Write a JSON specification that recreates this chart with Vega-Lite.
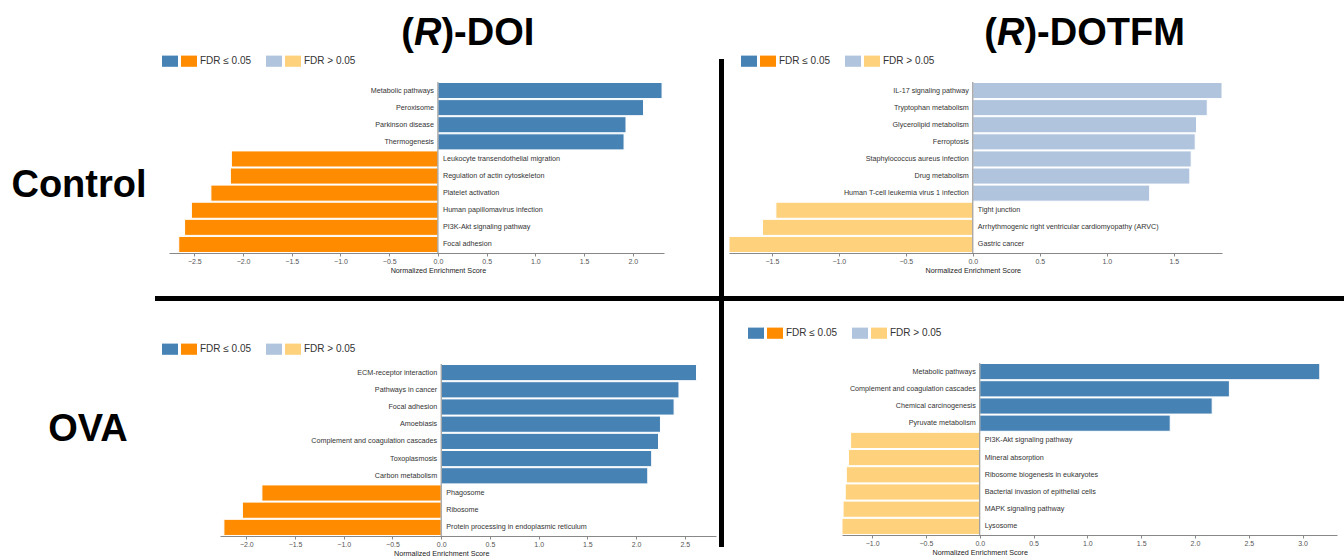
{
  "$schema": "https://vega.github.io/schema/vega-lite/v6.json",
  "padding": 0,
  "background": "white",
  "config": {
    "font": "Liberation Sans",
    "view": {"stroke": null},
    "axisX": {
      "grid": false, "format": ".1f",
      "labelFontSize": 7, "labelColor": "#555", "labelPadding": 1, "labelFlush": false,
      "tickSize": 3, "tickColor": "#888", "domainColor": "#888",
      "titleFontSize": 7.2, "titleFontWeight": "normal", "titleColor": "#222",
      "titleAlign": "center", "titleBaseline": "middle", "titleY": 17
    },
    "axisY": {
      "grid": false, "labels": false, "ticks": false, "domain": false,
      "titleAngle": 0, "titleFontSize": 38, "titleFontWeight": "bold", "titleColor": "#000",
      "titleAlign": "center", "titleBaseline": "alphabetic"
    },
    "legend": {
      "direction": "horizontal", "padding": 0, "columnPadding": 0,
      "labelFontSize": 10, "labelColor": "#333", "labelOffset": 3, "labelLimit": 300,
      "symbolSize": 256, "symbolStrokeWidth": 0
    }
  },
  "datasets": {
    "doi_control": [
      {"pathway": "Metabolic pathways", "nes": 2.30, "fdr": "sig"},
      {"pathway": "Peroxisome", "nes": 2.11, "fdr": "sig"},
      {"pathway": "Parkinson disease", "nes": 1.93, "fdr": "sig"},
      {"pathway": "Thermogenesis", "nes": 1.91, "fdr": "sig"},
      {"pathway": "Leukocyte transendothelial migration", "nes": -2.12, "fdr": "sig"},
      {"pathway": "Regulation of actin cytoskeleton", "nes": -2.13, "fdr": "sig"},
      {"pathway": "Platelet activation", "nes": -2.33, "fdr": "sig"},
      {"pathway": "Human papillomavirus infection", "nes": -2.53, "fdr": "sig"},
      {"pathway": "PI3K-Akt signaling pathway", "nes": -2.60, "fdr": "sig"},
      {"pathway": "Focal adhesion", "nes": -2.66, "fdr": "sig"}
    ],
    "dotfm_control": [
      {"pathway": "IL-17 signaling pathway", "nes": 1.86, "fdr": "ns"},
      {"pathway": "Tryptophan metabolism", "nes": 1.75, "fdr": "ns"},
      {"pathway": "Glycerolipid metabolism", "nes": 1.67, "fdr": "ns"},
      {"pathway": "Ferroptosis", "nes": 1.66, "fdr": "ns"},
      {"pathway": "Staphylococcus aureus infection", "nes": 1.63, "fdr": "ns"},
      {"pathway": "Drug metabolism", "nes": 1.62, "fdr": "ns"},
      {"pathway": "Human T-cell leukemia virus 1 infection", "nes": 1.32, "fdr": "ns"},
      {"pathway": "Tight junction", "nes": -1.47, "fdr": "ns"},
      {"pathway": "Arrhythmogenic right ventricular cardiomyopathy (ARVC)", "nes": -1.57, "fdr": "ns"},
      {"pathway": "Gastric cancer", "nes": -1.82, "fdr": "ns"}
    ],
    "doi_ova": [
      {"pathway": "ECM-receptor interaction", "nes": 2.62, "fdr": "sig"},
      {"pathway": "Pathways in cancer", "nes": 2.44, "fdr": "sig"},
      {"pathway": "Focal adhesion", "nes": 2.39, "fdr": "sig"},
      {"pathway": "Amoebiasis", "nes": 2.25, "fdr": "sig"},
      {"pathway": "Complement and coagulation cascades", "nes": 2.23, "fdr": "sig"},
      {"pathway": "Toxoplasmosis", "nes": 2.16, "fdr": "sig"},
      {"pathway": "Carbon metabolism", "nes": 2.12, "fdr": "sig"},
      {"pathway": "Phagosome", "nes": -1.84, "fdr": "sig"},
      {"pathway": "Ribosome", "nes": -2.04, "fdr": "sig"},
      {"pathway": "Protein processing in endoplasmic reticulum", "nes": -2.23, "fdr": "sig"}
    ],
    "dotfm_ova": [
      {"pathway": "Metabolic pathways", "nes": 3.16, "fdr": "sig"},
      {"pathway": "Complement and coagulation cascades", "nes": 2.32, "fdr": "sig"},
      {"pathway": "Chemical carcinogenesis", "nes": 2.16, "fdr": "sig"},
      {"pathway": "Pyruvate metabolism", "nes": 1.77, "fdr": "sig"},
      {"pathway": "PI3K-Akt signaling pathway", "nes": -1.20, "fdr": "ns"},
      {"pathway": "Mineral absorption", "nes": -1.22, "fdr": "ns"},
      {"pathway": "Ribosome biogenesis in eukaryotes", "nes": -1.24, "fdr": "ns"},
      {"pathway": "Bacterial invasion of epithelial cells", "nes": -1.25, "fdr": "ns"},
      {"pathway": "MAPK signaling pathway", "nes": -1.27, "fdr": "ns"},
      {"pathway": "Lysosome", "nes": -1.28, "fdr": "ns"}
    ]
  },
  "bounds": "full",
  "spacing": 0,
  "resolve": {"scale": {"color": "independent"}, "legend": {"color": "independent"}},
  "hconcat": [
    {
      "bounds": "full", "spacing": 0,
      "resolve": {"scale": {"color": "independent"}, "legend": {"color": "independent"}},
      "vconcat": [
        {
          "bounds": "flush", "spacing": 0,
          "hconcat": [
            {"width": 413.7, "height": 52, "data": {"values": []}, "mark": "point"},
            {
              "width": 27.4, "height": 52,
              "data": {"values": [{"part": "(", "slot": 0}, {"part": "R", "slot": 1}, {"part": ")-DOI", "slot": 2}]},
              "encoding": {"x": {"field": "slot", "type": "ordinal", "scale": {"type": "point", "padding": 0}, "axis": null}},
              "layer": [
                {"mark": {"type": "text", "align": "right", "baseline": "alphabetic", "dy": 18.5, "fontSize": 38, "fontWeight": "bold", "color": "#000"},
                 "encoding": {"text": {"condition": {"test": "datum.slot === 0", "field": "part"}, "value": ""}}},
                {"mark": {"type": "text", "align": "center", "baseline": "alphabetic", "dy": 18.5, "fontSize": 38, "fontWeight": "bold", "fontStyle": "italic", "color": "#000"},
                 "encoding": {"text": {"condition": {"test": "datum.slot === 1", "field": "part"}, "value": ""}}},
                {"mark": {"type": "text", "align": "left", "baseline": "alphabetic", "dy": 18.5, "fontSize": 38, "fontWeight": "bold", "color": "#000"},
                 "encoding": {"text": {"condition": {"test": "datum.slot === 2", "field": "part"}, "value": ""}}}
              ]
            }
          ]
        },
        {
          "bounds": "flush", "spacing": 0,
          "resolve": {"scale": {"color": "independent"}, "legend": {"color": "independent"}},
          "hconcat": [
            {"width": 169, "height": 213.5, "data": {"values": []}, "mark": "point"},
            {
              "width": 495, "height": 171,
              "data": {"name": "doi_control"},
              "transform": [{"calculate": "(datum.nes >= 0 ? 'up' : 'down') + '|' + datum.fdr", "as": "key"}],
              "layer": [
                {
                  "mark": {"type": "bar", "stroke": "white", "strokeWidth": 1},
                  "encoding": {
                    "y": {"field": "pathway", "type": "nominal", "sort": null, "title": "Control",
                          "scale": {"paddingInner": 0.06, "paddingOuter": 0.03},
                          "axis": {"titleX": -90.5, "titleY": 114}},
                    "x": {"field": "nes", "type": "quantitative", "title": "Normalized Enrichment Score",
                          "scale": {"domain": [-2.76, 2.32], "nice": false, "zero": false},
                          "axis": {"values": [-2.5, -2, -1.5, -1, -0.5, 0, 0.5, 1, 1.5, 2], "titleX": 268.9}},
                    "x2": {"datum": 0},
                    "color": {"field": "key", "type": "nominal",
                              "scale": {"domain": ["up|sig", "down|sig", "up|ns", "down|ns"], "range": ["#4682b4", "#ff8c00", "#b0c4de", "#fed17c"]},
                              "legend": {"orient": "none", "legendX": -7, "legendY": -29, "title": null,
                                         "symbolType": "M-1,-0.7H1V0.7H-1Z",
                                         "labelExpr": "datum.value === 'down|sig' ? 'FDR ≤ 0.05\u2800\u2800' : datum.value === 'down|ns' ? 'FDR > 0.05' : ''"}}
                  }
                },
                {"data": {"values": [{}]}, "mark": {"type": "rule", "color": "#8a8a8a", "strokeWidth": 1}, "encoding": {"x": {"datum": 0}}},
                {
                  "mark": {"type": "text", "align": "right", "dx": -4, "fontSize": 7.2, "color": "#333"},
                  "encoding": {
                    "y": {"field": "pathway", "type": "nominal", "sort": null, "title": "Control"},
                    "x": {"datum": 0},
                    "text": {"condition": {"test": "datum.nes >= 0", "field": "pathway"}, "value": ""}
                  }
                },
                {
                  "mark": {"type": "text", "align": "left", "dx": 5, "fontSize": 7.2, "color": "#333"},
                  "encoding": {
                    "y": {"field": "pathway", "type": "nominal", "sort": null, "title": "Control"},
                    "x": {"datum": 0},
                    "text": {"condition": {"test": "datum.nes < 0", "field": "pathway"}, "value": ""}
                  }
                }
              ]
            }
          ]
        },
        {
          "bounds": "flush", "spacing": 0,
          "hconcat": [
            {"width": 155, "height": 5, "data": {"values": []}, "mark": "point"},
            {"width": 564, "height": 5, "data": {"values": [{}]}, "mark": {"type": "rect", "color": "#000"},
             "encoding": {
               "x": {"datum": -1, "scale": {"domain": [-1, 1], "nice": false}, "axis": null}, "x2": {"datum": 1},
               "y": {"datum": -1, "scale": {"domain": [-1, 1], "nice": false}, "axis": null}, "y2": {"datum": 1}
             }}
          ]
        },
        {"width": 1, "height": 40, "data": {"values": []}, "mark": "point"},
        {
          "bounds": "flush", "spacing": 0,
          "resolve": {"scale": {"color": "independent"}, "legend": {"color": "independent"}},
          "hconcat": [
            {"width": 220, "height": 172, "data": {"values": []}, "mark": "point"},
            {
              "width": 496, "height": 172,
              "data": {"name": "doi_ova"},
              "transform": [{"calculate": "(datum.nes >= 0 ? 'up' : 'down') + '|' + datum.fdr", "as": "key"}],
              "layer": [
                {
                  "mark": {"type": "bar", "stroke": "white", "strokeWidth": 1},
                  "encoding": {
                    "y": {"field": "pathway", "type": "nominal", "sort": null, "title": "OVA",
                          "scale": {"paddingInner": 0.06, "paddingOuter": 0.03},
                          "axis": {"titleX": -132.5, "titleY": 76.7}},
                    "x": {"field": "nes", "type": "quantitative", "title": "Normalized Enrichment Score",
                          "scale": {"domain": [-2.27, 2.82], "nice": false, "zero": false},
                          "axis": {"values": [-2, -1.5, -1, -0.5, 0, 0.5, 1, 1.5, 2, 2.5], "titleX": 221.2}},
                    "x2": {"datum": 0},
                    "color": {"field": "key", "type": "nominal",
                              "scale": {"domain": ["up|sig", "down|sig", "up|ns", "down|ns"], "range": ["#4682b4", "#ff8c00", "#b0c4de", "#fed17c"]},
                              "legend": {"orient": "none", "legendX": -58, "legendY": -23, "title": null,
                                         "symbolType": "M-1,-0.7H1V0.7H-1Z",
                                         "labelExpr": "datum.value === 'down|sig' ? 'FDR ≤ 0.05\u2800\u2800' : datum.value === 'down|ns' ? 'FDR > 0.05' : ''"}}
                  }
                },
                {"data": {"values": [{}]}, "mark": {"type": "rule", "color": "#8a8a8a", "strokeWidth": 1}, "encoding": {"x": {"datum": 0}}},
                {
                  "mark": {"type": "text", "align": "right", "dx": -4, "fontSize": 7.2, "color": "#333"},
                  "encoding": {
                    "y": {"field": "pathway", "type": "nominal", "sort": null, "title": "OVA"},
                    "x": {"datum": 0},
                    "text": {"condition": {"test": "datum.nes >= 0", "field": "pathway"}, "value": ""}
                  }
                },
                {
                  "mark": {"type": "text", "align": "left", "dx": 5, "fontSize": 7.2, "color": "#333"},
                  "encoding": {
                    "y": {"field": "pathway", "type": "nominal", "sort": null, "title": "OVA"},
                    "x": {"datum": 0},
                    "text": {"condition": {"test": "datum.nes < 0", "field": "pathway"}, "value": ""}
                  }
                }
              ]
            }
          ]
        }
      ]
    },
    {
      "bounds": "full", "spacing": 0,
      "vconcat": [
        {"width": 5, "height": 59, "data": {"values": []}, "mark": "point"},
        {"width": 5, "height": 488, "data": {"values": [{}]}, "mark": {"type": "rect", "color": "#000"},
         "encoding": {
           "x": {"datum": -1, "scale": {"domain": [-1, 1], "nice": false}, "axis": null}, "x2": {"datum": 1},
           "y": {"datum": -1, "scale": {"domain": [-1, 1], "nice": false}, "axis": null}, "y2": {"datum": 1}
         }}
      ]
    },
    {
      "bounds": "full", "spacing": 0,
      "resolve": {"scale": {"color": "independent"}, "legend": {"color": "independent"}},
      "vconcat": [
        {
          "bounds": "flush", "spacing": 0,
          "hconcat": [
            {"width": 272.2, "height": 52, "data": {"values": []}, "mark": "point"},
            {
              "width": 27.4, "height": 52,
              "data": {"values": [{"part": "(", "slot": 0}, {"part": "R", "slot": 1}, {"part": ")-DOTFM", "slot": 2}]},
              "encoding": {"x": {"field": "slot", "type": "ordinal", "scale": {"type": "point", "padding": 0}, "axis": null}},
              "layer": [
                {"mark": {"type": "text", "align": "right", "baseline": "alphabetic", "dy": 18.5, "fontSize": 38, "fontWeight": "bold", "color": "#000"},
                 "encoding": {"text": {"condition": {"test": "datum.slot === 0", "field": "part"}, "value": ""}}},
                {"mark": {"type": "text", "align": "center", "baseline": "alphabetic", "dy": 18.5, "fontSize": 38, "fontWeight": "bold", "fontStyle": "italic", "color": "#000"},
                 "encoding": {"text": {"condition": {"test": "datum.slot === 1", "field": "part"}, "value": ""}}},
                {"mark": {"type": "text", "align": "left", "baseline": "alphabetic", "dy": 18.5, "fontSize": 38, "fontWeight": "bold", "color": "#000"},
                 "encoding": {"text": {"condition": {"test": "datum.slot === 2", "field": "part"}, "value": ""}}}
              ]
            }
          ]
        },
        {
          "bounds": "flush", "spacing": 0,
          "resolve": {"scale": {"color": "independent"}, "legend": {"color": "independent"}},
          "hconcat": [
            {"width": 5, "height": 213.5, "data": {"values": []}, "mark": "point"},
            {
              "width": 493, "height": 171,
              "data": {"name": "dotfm_control"},
              "transform": [{"calculate": "(datum.nes >= 0 ? 'up' : 'down') + '|' + datum.fdr", "as": "key"}],
              "layer": [
                {
                  "mark": {"type": "bar", "stroke": "white", "strokeWidth": 1},
                  "encoding": {
                    "y": {"field": "pathway", "type": "nominal", "sort": null,
                          "scale": {"paddingInner": 0.06, "paddingOuter": 0.03}, "axis": null},
                    "x": {"field": "nes", "type": "quantitative", "title": "Normalized Enrichment Score",
                          "scale": {"domain": [-1.82, 1.86], "nice": false, "zero": false},
                          "axis": {"values": [-1.5, -1, -0.5, 0, 0.5, 1, 1.5], "titleX": 243.8}},
                    "x2": {"datum": 0},
                    "color": {"field": "key", "type": "nominal",
                              "scale": {"domain": ["up|sig", "down|sig", "up|ns", "down|ns"], "range": ["#4682b4", "#ff8c00", "#b0c4de", "#fed17c"]},
                              "legend": {"orient": "none", "legendX": 12, "legendY": -29, "title": null,
                                         "symbolType": "M-1,-0.7H1V0.7H-1Z",
                                         "labelExpr": "datum.value === 'down|sig' ? 'FDR ≤ 0.05\u2800\u2800' : datum.value === 'down|ns' ? 'FDR > 0.05' : ''"}}
                  }
                },
                {"data": {"values": [{}]}, "mark": {"type": "rule", "color": "#8a8a8a", "strokeWidth": 1}, "encoding": {"x": {"datum": 0}}},
                {
                  "mark": {"type": "text", "align": "right", "dx": -4, "fontSize": 7.2, "color": "#333"},
                  "encoding": {
                    "y": {"field": "pathway", "type": "nominal", "sort": null, "axis": null},
                    "x": {"datum": 0},
                    "text": {"condition": {"test": "datum.nes >= 0", "field": "pathway"}, "value": ""}
                  }
                },
                {
                  "mark": {"type": "text", "align": "left", "dx": 5, "fontSize": 7.2, "color": "#333"},
                  "encoding": {
                    "y": {"field": "pathway", "type": "nominal", "sort": null, "axis": null},
                    "x": {"datum": 0},
                    "text": {"condition": {"test": "datum.nes < 0", "field": "pathway"}, "value": ""}
                  }
                }
              ]
            }
          ]
        },
        {"width": 620, "height": 5, "data": {"values": [{}]}, "mark": {"type": "rect", "color": "#000"},
         "encoding": {
           "x": {"datum": -1, "scale": {"domain": [-1, 1], "nice": false}, "axis": null}, "x2": {"datum": 1},
           "y": {"datum": -1, "scale": {"domain": [-1, 1], "nice": false}, "axis": null}, "y2": {"datum": 1}
         }},
        {"width": 1, "height": 24, "data": {"values": []}, "mark": "point"},
        {
          "bounds": "flush", "spacing": 0,
          "resolve": {"scale": {"color": "independent"}, "legend": {"color": "independent"}},
          "hconcat": [
            {"width": 118, "height": 172, "data": {"values": []}, "mark": "point"},
            {
              "width": 495, "height": 172,
              "data": {"name": "dotfm_ova"},
              "transform": [{"calculate": "(datum.nes >= 0 ? 'up' : 'down') + '|' + datum.fdr", "as": "key"}],
              "layer": [
                {
                  "mark": {"type": "bar", "stroke": "white", "strokeWidth": 1},
                  "encoding": {
                    "y": {"field": "pathway", "type": "nominal", "sort": null,
                          "scale": {"paddingInner": 0.06, "paddingOuter": 0.03}, "axis": null},
                    "x": {"field": "nes", "type": "quantitative", "title": "Normalized Enrichment Score",
                          "scale": {"domain": [-1.28, 3.32], "nice": false, "zero": false},
                          "axis": {"values": [-1, -0.5, 0, 0.5, 1, 1.5, 2, 2.5, 3], "titleX": 137.7}},
                    "x2": {"datum": 0},
                    "color": {"field": "key", "type": "nominal",
                              "scale": {"domain": ["up|sig", "down|sig", "up|ns", "down|ns"], "range": ["#4682b4", "#ff8c00", "#b0c4de", "#fed17c"]},
                              "legend": {"orient": "none", "legendX": -94, "legendY": -38, "title": null,
                                         "symbolType": "M-1,-0.7H1V0.7H-1Z",
                                         "labelExpr": "datum.value === 'down|sig' ? 'FDR ≤ 0.05\u2800\u2800' : datum.value === 'down|ns' ? 'FDR > 0.05' : ''"}}
                  }
                },
                {"data": {"values": [{}]}, "mark": {"type": "rule", "color": "#8a8a8a", "strokeWidth": 1}, "encoding": {"x": {"datum": 0}}},
                {
                  "mark": {"type": "text", "align": "right", "dx": -4, "fontSize": 7.2, "color": "#333"},
                  "encoding": {
                    "y": {"field": "pathway", "type": "nominal", "sort": null, "axis": null},
                    "x": {"datum": 0},
                    "text": {"condition": {"test": "datum.nes >= 0", "field": "pathway"}, "value": ""}
                  }
                },
                {
                  "mark": {"type": "text", "align": "left", "dx": 5, "fontSize": 7.2, "color": "#333"},
                  "encoding": {
                    "y": {"field": "pathway", "type": "nominal", "sort": null, "axis": null},
                    "x": {"datum": 0},
                    "text": {"condition": {"test": "datum.nes < 0", "field": "pathway"}, "value": ""}
                  }
                }
              ]
            }
          ]
        }
      ]
    }
  ]
}
